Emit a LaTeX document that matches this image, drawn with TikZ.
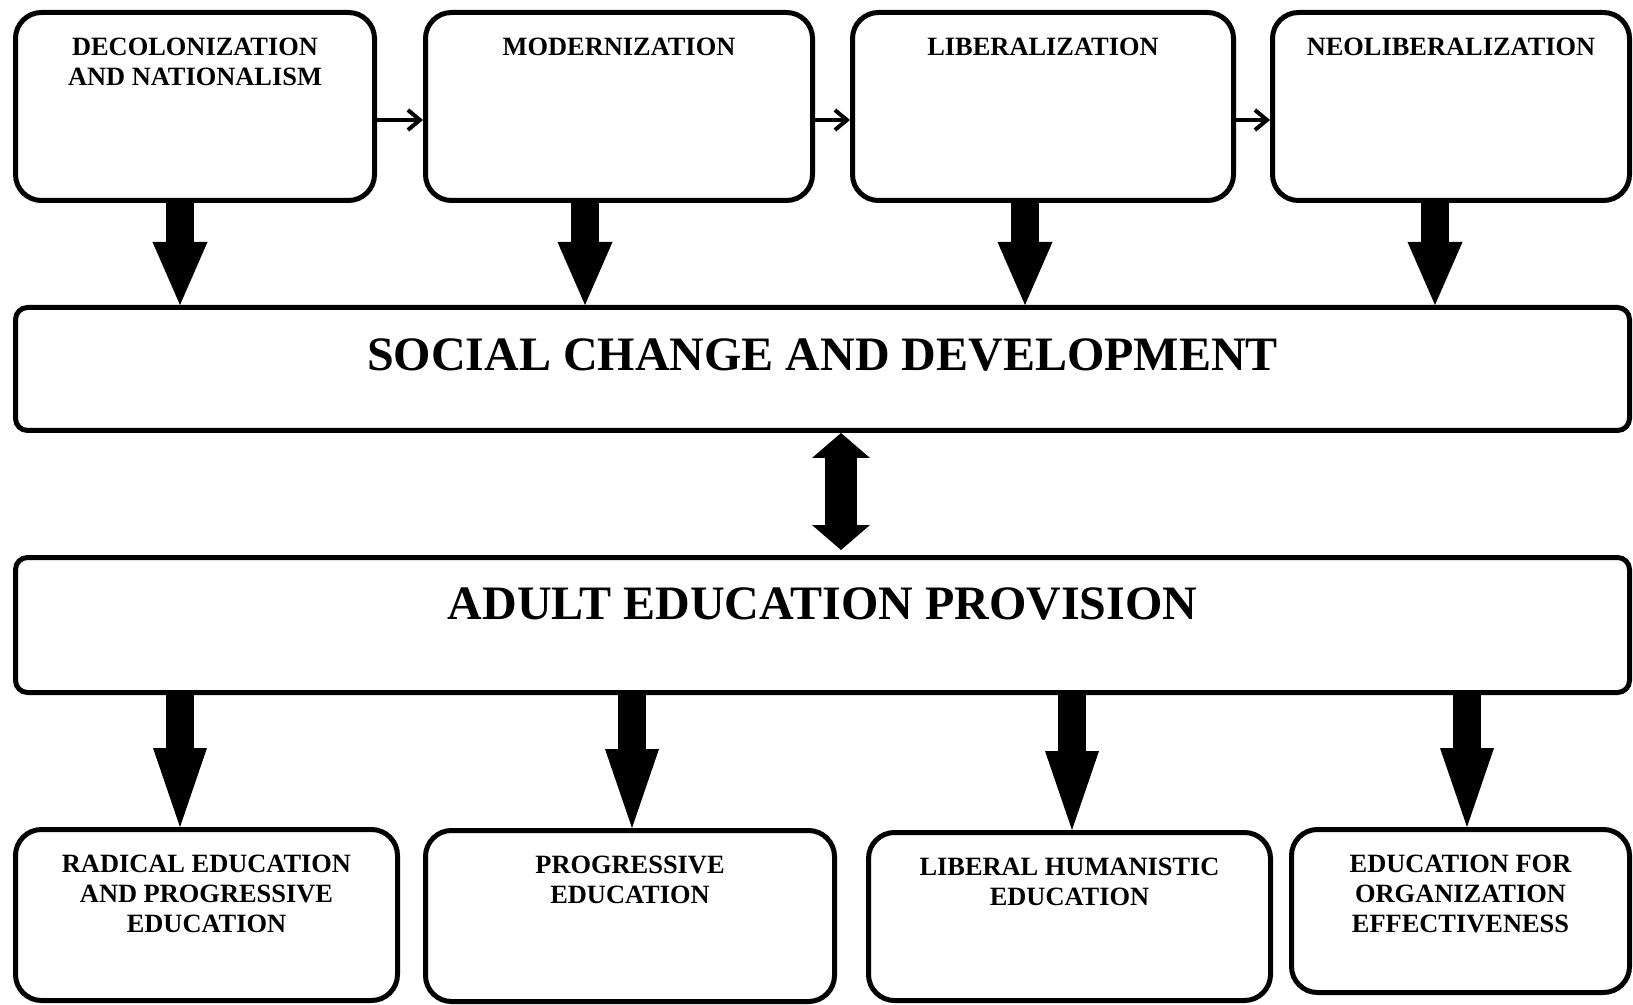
\documentclass[tikz,border=0pt]{standalone}
\usepackage{fontspec}
\setmainfont{Liberation Serif}
\usetikzlibrary{arrows.meta}
\begin{document}
\begin{tikzpicture}[x=0.5pt,y=-0.5pt,
    box/.style={draw,line width=2.5pt,rounded corners=13pt,fill=white},
    bar/.style={draw,line width=2.5pt,rounded corners=6pt,fill=white},
    lbl/.style={anchor=north,inner sep=0pt,yshift=-14pt,align=center,
      font=\fontsize{13.2}{15}\selectfont\bfseries},
    big/.style={anchor=north,inner sep=0pt,
      font=\fontsize{24}{28}\selectfont\bfseries},
    fat/.style={line width=14pt,-{Triangle[length=31.5pt,width=27.5pt,line width=0pt]}},
    fatlong/.style={line width=14pt,-{Triangle[length=39.5pt,width=27pt,line width=0pt]}},
    both/.style={line width=16pt,
      {Triangle[length=12.5pt,width=29pt,line width=0pt]}-{Triangle[length=12.5pt,width=29pt,line width=0pt]}},
    thin/.style={line width=2pt,line cap=round,-{Straight Barb[length=6pt,width=10pt]}}]
  \useasboundingbox (0,0) rectangle (1633,1005);
  % top row
  \draw
    (195,106.5) node[box,minimum width=179.5pt,minimum height=94pt,
      label={[lbl]north:{DECOLONIZATION\\AND NATIONALISM}}] (dec){}
    (619,106.5) node[box,minimum width=193.5pt,minimum height=94pt,
      label={[lbl]north:MODERNIZATION}] (mod){}
    (1043,106.5) node[box,minimum width=190.5pt,minimum height=94pt,
      label={[lbl]north:LIBERALIZATION}] (lib){}
    (1451,106.5) node[box,minimum width=178.5pt,minimum height=94pt,
      label={[lbl]north:NEOLIBERALIZATION}] (neo){};
  % middle bars
  \draw
    (822.5,369) node[bar,minimum width=807pt,minimum height=61.5pt,
      label={[big,yshift=-16.5pt]north:SOCIAL CHANGE AND DEVELOPMENT}] (scd){}
    (822.5,625) node[bar,minimum width=807pt,minimum height=67.5pt,
      label={[big,yshift=-16pt]north:ADULT EDUCATION PROVISION}] (aep){};
  % bottom row
  \draw
    (206.5,915) node[box,minimum width=191pt,minimum height=85.5pt,
      label={[lbl]north:{RADICAL EDUCATION\\AND PROGRESSIVE\\EDUCATION}}] (rad){}
    (630,916) node[box,minimum width=204.5pt,minimum height=85.5pt,
      label={[lbl]north:{PROGRESSIVE\\EDUCATION}}] (pro){}
    (1069.5,916.5) node[box,minimum width=201pt,minimum height=84pt,
      label={[lbl]north:{LIBERAL HUMANISTIC\\EDUCATION}}] (hum){}
    (1460.5,911) node[box,minimum width=169pt,minimum height=81.5pt,
      label={[lbl]north:{EDUCATION FOR\\ORGANIZATION\\EFFECTIVENESS}}] (org){};
  \begin{scope}
    \draw[thin] ([yshift=-6.75pt]dec.east) -- ([yshift=-6.75pt]mod.west);
    \draw[thin] ([yshift=-6.75pt]mod.east) -- ([yshift=-6.75pt]lib.west);
    \draw[thin] ([yshift=-6.75pt]lib.east) -- ([yshift=-6.75pt]neo.west);
    \draw[fat] ([xshift=-7.5pt]dec.south) -- ([xshift=-7.5pt]dec.south |- scd.north);
    \draw[fat] ([xshift=-17pt]mod.south) -- ([xshift=-17pt]mod.south |- scd.north);
    \draw[fat] ([xshift=-9pt]lib.south) -- ([xshift=-9pt]lib.south |- scd.north);
    \draw[fat] ([xshift=-8pt]neo.south) -- ([xshift=-8pt]neo.south |- scd.north);
    \draw[both,shorten >=2.5pt] ([xshift=9.25pt]scd.south) -- ([xshift=9.25pt]scd.south |- aep.north);
    \draw[fatlong] ([xshift=-13.25pt]rad.north |- aep.south) -- ([xshift=-13.25pt]rad.north);
    \draw[fatlong] ([xshift=1pt]pro.north |- aep.south) -- ([xshift=1pt]pro.north);
    \draw[fatlong] ([xshift=1.25pt]hum.north |- aep.south) -- ([xshift=1.25pt]hum.north);
    \draw[fatlong] ([xshift=3.25pt]org.north |- aep.south) -- ([xshift=3.25pt]org.north);
  \end{scope}
\end{tikzpicture}
\end{document}
